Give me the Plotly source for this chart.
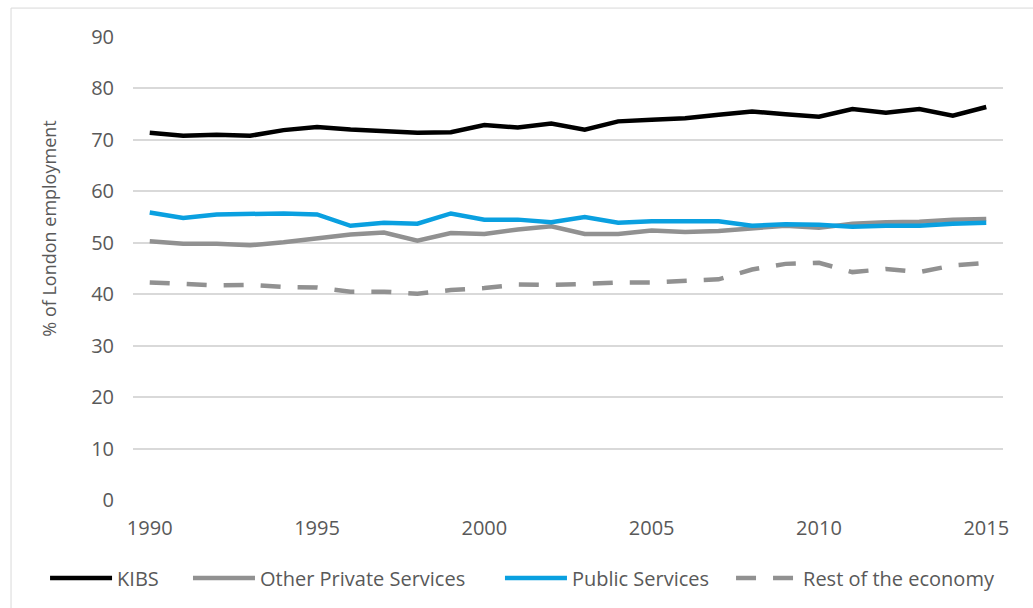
import plotly.graph_objects as go

# Share of London employment by sector, 1990-2015
years = list(range(1990, 2016))

kibs = [71.4, 70.8, 71.0, 70.8, 71.9, 72.5, 72.0, 71.8, 71.4, 71.5,
        72.9, 72.4, 73.2, 72.0, 73.6, 73.9, 74.2, 74.9, 75.5, 75.0,
        74.5, 76.0, 75.3, 76.0, 74.7, 76.4]

other_private = [50.3, 49.8, 49.8, 49.5, 50.1, 50.9, 51.6, 52.0, 50.4, 51.9,
                 51.7, 52.6, 53.2, 51.7, 51.7, 52.4, 52.1, 52.3, 52.7, 53.3,
                 52.9, 53.7, 54.0, 54.1, 54.5, 54.6]

public_services = [55.9, 54.8, 55.5, 55.7, 55.7, 55.5, 53.3, 53.9, 53.7, 55.7,
                   54.5, 54.5, 54.0, 55.0, 53.9, 54.2, 54.2, 54.2, 53.3, 53.6,
                   53.5, 53.1, 53.3, 53.3, 53.7, 53.9]

rest_of_economy = [42.3, 41.9, 41.7, 41.8, 41.4, 41.3, 40.5, 40.5, 40.1, 40.8,
                   41.2, 41.9, 41.8, 42.0, 42.3, 42.3, 42.6, 42.9, 44.8, 45.9,
                   46.1, 44.3, 44.9, 44.3, 45.6, 46.1]

x_ticks = [1990, 1995, 2000, 2005, 2010, 2015]
y_ticks = [0, 10, 20, 30, 40, 50, 60, 70, 80, 90]

FONT = "Open Sans"
TEXT_GREY = "#595959"
GRID_GREY = "#d9d9d9"

fig = go.Figure()

# name, values, colour, dash, legend id, legend x position (paper)
series = [
    ("KIBS", kibs, "#000000", "solid", "legend", -0.1011),
    ("Other Private Services", other_private, "#919191", "solid", "legend2", 0.0632),
    ("Public Services", public_services, "#0aa0e0", "solid", "legend3", 0.4218),
    ("Rest of the economy", rest_of_economy, "#919191", "20px,17px", "legend4", 0.6874),
]
legend_layout = {}
for name, vals, color, dash, leg, lx in series:
    fig.add_trace(go.Scatter(
        x=years, y=vals, name=name, mode="lines",
        line=dict(color=color, width=4.5, dash=dash),
        hoverinfo="skip", legend=leg,
    ))
    legend_layout[leg] = dict(
        orientation="h", x=lx, xanchor="left", y=-0.166, yanchor="middle",
        font=dict(family=FONT, size=20, color=TEXT_GREY),
        itemwidth=62, bgcolor="rgba(0,0,0,0)",
    )

# outer chart frame
fig.add_shape(type="rect", xref="paper", yref="paper",
              x0=-0.1402, x1=1.05, y0=-0.26, y1=1.0625,
              line=dict(color=GRID_GREY, width=1), fillcolor="rgba(0,0,0,0)",
              layer="below")

# vertical axis title
fig.add_annotation(
    text="% of London employment", xref="paper", yref="paper",
    x=-0.0966, y=0.586, xanchor="center", yanchor="middle",
    textangle=-90, showarrow=False,
    font=dict(family=FONT, size=18, color=TEXT_GREY),
)

fig.update_layout(
    width=1033, height=608,
    margin=dict(l=133, r=30, t=37, b=107),
    paper_bgcolor="white", plot_bgcolor="white",
    font=dict(family=FONT, color=TEXT_GREY, size=20),
    showlegend=True,
    xaxis=dict(
        range=[1989.5, 2015.5], tickvals=x_ticks, ticktext=[str(v) for v in x_ticks],
        showgrid=False, zeroline=False, showline=False, ticks="",
        ticklabelstandoff=14, tickfont=dict(size=20, color=TEXT_GREY),
        fixedrange=True,
    ),
    yaxis=dict(
        range=[0, 90], tickvals=y_ticks, showgrid=True, gridcolor=GRID_GREY, gridwidth=1.5,
        zeroline=False, showline=False, ticks="",
        ticklabelstandoff=18, tickfont=dict(size=20, color=TEXT_GREY),
        fixedrange=True,
    ),
    **legend_layout,
)

fig.write_html("out.html", config={"displayModeBar": False})
